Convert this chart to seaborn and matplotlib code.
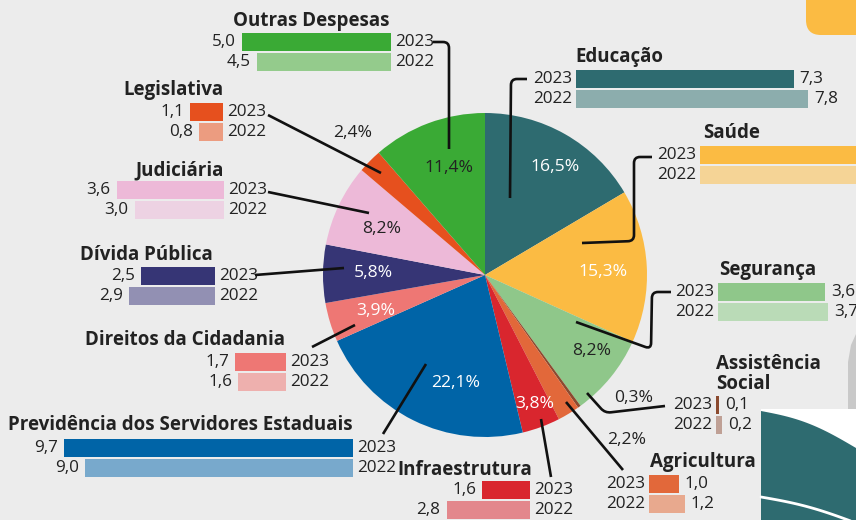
import numpy as np
import pandas as pd
import matplotlib.pyplot as plt
import seaborn as sns
from matplotlib.path import Path
from matplotlib.patches import PathPatch, Rectangle, FancyBboxPatch, Polygon

sns.set_theme(style="white")
plt.rcParams['font.family'] = ['Open Sans', 'DejaVu Sans']

# Data, clockwise from the top of the pie
categories = ['Educação', 'Saúde', 'Segurança', 'Assistência Social', 'Agricultura',
              'Infraestrutura', 'Previdência dos Servidores Estaduais',
              'Direitos da Cidadania', 'Dívida Pública', 'Judiciária',
              'Legislativa', 'Outras Despesas']
share_pct = [16.5, 15.3, 8.2, 0.3, 2.2, 3.8, 22.1, 3.9, 5.8, 8.2, 2.4, 11.4]
valor_2023 = [7.3, 6.8, 3.6, 0.1, 1.0, 1.6, 9.7, 1.7, 2.5, 3.6, 1.1, 5.0]
valor_2022 = [7.8, 6.5, 3.7, 0.2, 1.2, 2.8, 9.0, 1.6, 2.9, 3.0, 0.8, 4.5]
years = ['2023', '2022']

colors_2023 = ['#2E6B70', '#FBBB43', '#8FC78A', '#8B4A2F', '#E2683A', '#D9262E',
               '#0064A7', '#EE7774', '#363575', '#EDB9D8', '#E6501E', '#3AAA35']
colors_2022 = ['#8CADAD', '#F5D496', '#BADBB7', '#BFA095', '#E8A98E', '#E3878C',
               '#78A9CC', '#EEB0AE', '#9290B3', '#EDD2E3', '#EC9C80', '#94CB8C']

W, H = 856, 520
BG = '#ECECEC'
INK = '#222222'
PX_PER_UNIT = 29.8
NUM_FS = 12.3
fmt = lambda v: f"{v:.1f}".replace('.', ',')

fig = plt.figure(figsize=(W / 100, H / 100), dpi=100, facecolor=BG)

# background decorations
bg = fig.add_axes([0, 0, 1, 1], zorder=0)
bg.set_xlim(0, W); bg.set_ylim(H, 0); bg.axis('off')
bg.add_patch(FancyBboxPatch((806, -40), 80, 75, boxstyle="round,pad=0,rounding_size=15",
                            fc='#FBBB43', ec='none'))
bg.add_patch(Polygon([(856, 334), (851, 345), (848, 362), (848, 409), (856, 409)],
                     closed=True, fc='#C9C9C9', ec='none'))
bg.add_patch(Rectangle((761, 409), 95, 111, fc='white', ec='none'))
cx = np.linspace(761, 856, 30)
cy = 411 + 37 * (cx - 761) / 95 - 6 * np.sin(np.pi * (cx - 761) / 95)
bg.add_patch(Polygon(list(zip(cx, cy)) + [(856, 520), (761, 520)], closed=True,
                     fc='#2E6B70', ec='none'))
lx = np.linspace(761, 856, 30)
bg.plot(lx, 497 + 26 * (lx - 761) / 95 - 3 * np.sin(np.pi * (lx - 761) / 95),
        color='white', lw=2)

# pie
PCX, PCY, PR = 485, 275, 162
pie_ax = fig.add_axes([(PCX - PR) / W, 1 - (PCY + PR) / H, 2 * PR / W, 2 * PR / H], zorder=1)
pie_ax.pie(share_pct, colors=colors_2023, startangle=90, counterclock=False,
           radius=1, wedgeprops=dict(linewidth=0))
pie_ax.set_xlim(-1, 1); pie_ax.set_ylim(-1, 1); pie_ax.axis('off')

# overlay for texts and leader lines, in pixel coordinates
ov = fig.add_axes([0, 0, 1, 1], zorder=5)
ov.set_xlim(0, W); ov.set_ylim(H, 0); ov.axis('off'); ov.patch.set_alpha(0)

pct_layout = [((555, 167), 'white'), ((603, 272), 'white'), ((592, 351), INK),
              ((634, 398), INK), ((627, 440), INK), ((535, 404), 'white'),
              ((456, 383), 'white'), ((376, 311), 'white'), ((373, 273), 'white'),
              ((382, 229), INK), ((353, 133), INK), ((449, 168), INK)]
for pct, ((x, y), c) in zip(share_pct, pct_layout):
    ov.text(x, y, fmt(pct) + '%', color=c, fontsize=12.6, ha='center', va='center')


def leader(points, r=6):
    verts, codes = [points[0]], [Path.MOVETO]
    for i in range(1, len(points) - 1):
        p0, p1, p2 = (np.array(p, float) for p in points[i - 1:i + 2])
        d1 = (p0 - p1) / np.linalg.norm(p0 - p1)
        d2 = (p2 - p1) / np.linalg.norm(p2 - p1)
        verts += [tuple(p1 + d1 * r), tuple(p1), tuple(p1 + d2 * r)]
        codes += [Path.LINETO, Path.CURVE3, Path.CURVE3]
    verts.append(points[-1]); codes.append(Path.LINETO)
    ov.add_patch(PathPatch(Path(verts, codes), fill=False, lw=1.9, ec='#111111',
                           capstyle='butt', joinstyle='round'))


leaders = [
    [(527, 79), (511, 79), (510, 198)],
    [(652, 157), (634, 157), (634, 241), (582, 243)],
    [(671, 292), (652, 292), (651, 349), (576, 322)],
    [(665, 406), (605, 413), (587, 393)],
    [(623, 470), (566, 402)],
    [(551, 477), (541, 419)],
    [(383, 434), (426, 364)],
    [(312, 347), (355, 325)],
    [(255, 275), (344, 268)],
    [(268, 192), (369, 213)],
    [(268, 115), (381, 173)],
    [(433, 42), (449, 42), (449, 149)],
]
for pts in leaders:
    leader(pts)

# bar groups: base x, top of 2023 bar, grows to the right?
bar_layout = [(576, 70, True), (700, 146, True), (718, 283, True), (716, 396, True),
              (649, 475, True), (530, 481, False), (353, 439, False), (286, 353, False),
              (215, 267, False), (224, 181, False), (223, 103, False), (391, 33, False)]
title_layout = [(575, 57, 'left'), (703, 133, 'left'), (719, 270, 'left'),
                (716, 374, 'left'), (650, 462, 'left'), (465, 470, 'center'),
                (180, 425, 'center'), (185, 340, 'center'), (146, 255, 'center'),
                (180, 170, 'center'), (173, 90, 'center'), (311, 21, 'center')]

SPAN = 330
for i, name in enumerate(categories):
    xb, yt, right = bar_layout[i]
    left = xb if right else xb - SPAN
    ax = fig.add_axes([left / W, 1 - (yt - 1 + 40) / H, SPAN / W, 40 / H], zorder=2)
    df = pd.DataFrame({'ano': years, 'valor': [valor_2023[i], valor_2022[i]]})
    sns.barplot(data=df, x='valor', y='ano', hue='ano', palette=[colors_2023[i], colors_2022[i]],
                orient='h', width=0.9, saturation=1, legend=False, linewidth=0, ax=ax)
    ax.set_xlim(0, SPAN / PX_PER_UNIT)
    if not right:
        ax.invert_xaxis()
    ax.set_ylim(1.5, -0.5)
    ax.axis('off')
    sgn = 1 if right else -1
    for j, v in enumerate(df['valor']):
        ax.annotate(years[j], (0, j), xytext=(-4 * sgn, 0), textcoords='offset pixels',
                    ha='right' if right else 'left', va='center', fontsize=NUM_FS, color=INK,
                    annotation_clip=False)
        if xb + sgn * v * PX_PER_UNIT < W - 10:
            ax.annotate(fmt(v), (v, j), xytext=(6 * sgn, 0), textcoords='offset pixels',
                        ha='left' if right else 'right', va='center', fontsize=NUM_FS,
                        color=INK, annotation_clip=False)
    tx, ty, ha = title_layout[i]
    label = 'Assistência\nSocial' if name == 'Assistência Social' else name
    ov.text(tx, ty, label, ha=ha, va='center', fontsize=13.5, fontweight='bold',
            color=INK, linespacing=0.95)

fig.savefig('out.png', dpi=100, facecolor=BG)
